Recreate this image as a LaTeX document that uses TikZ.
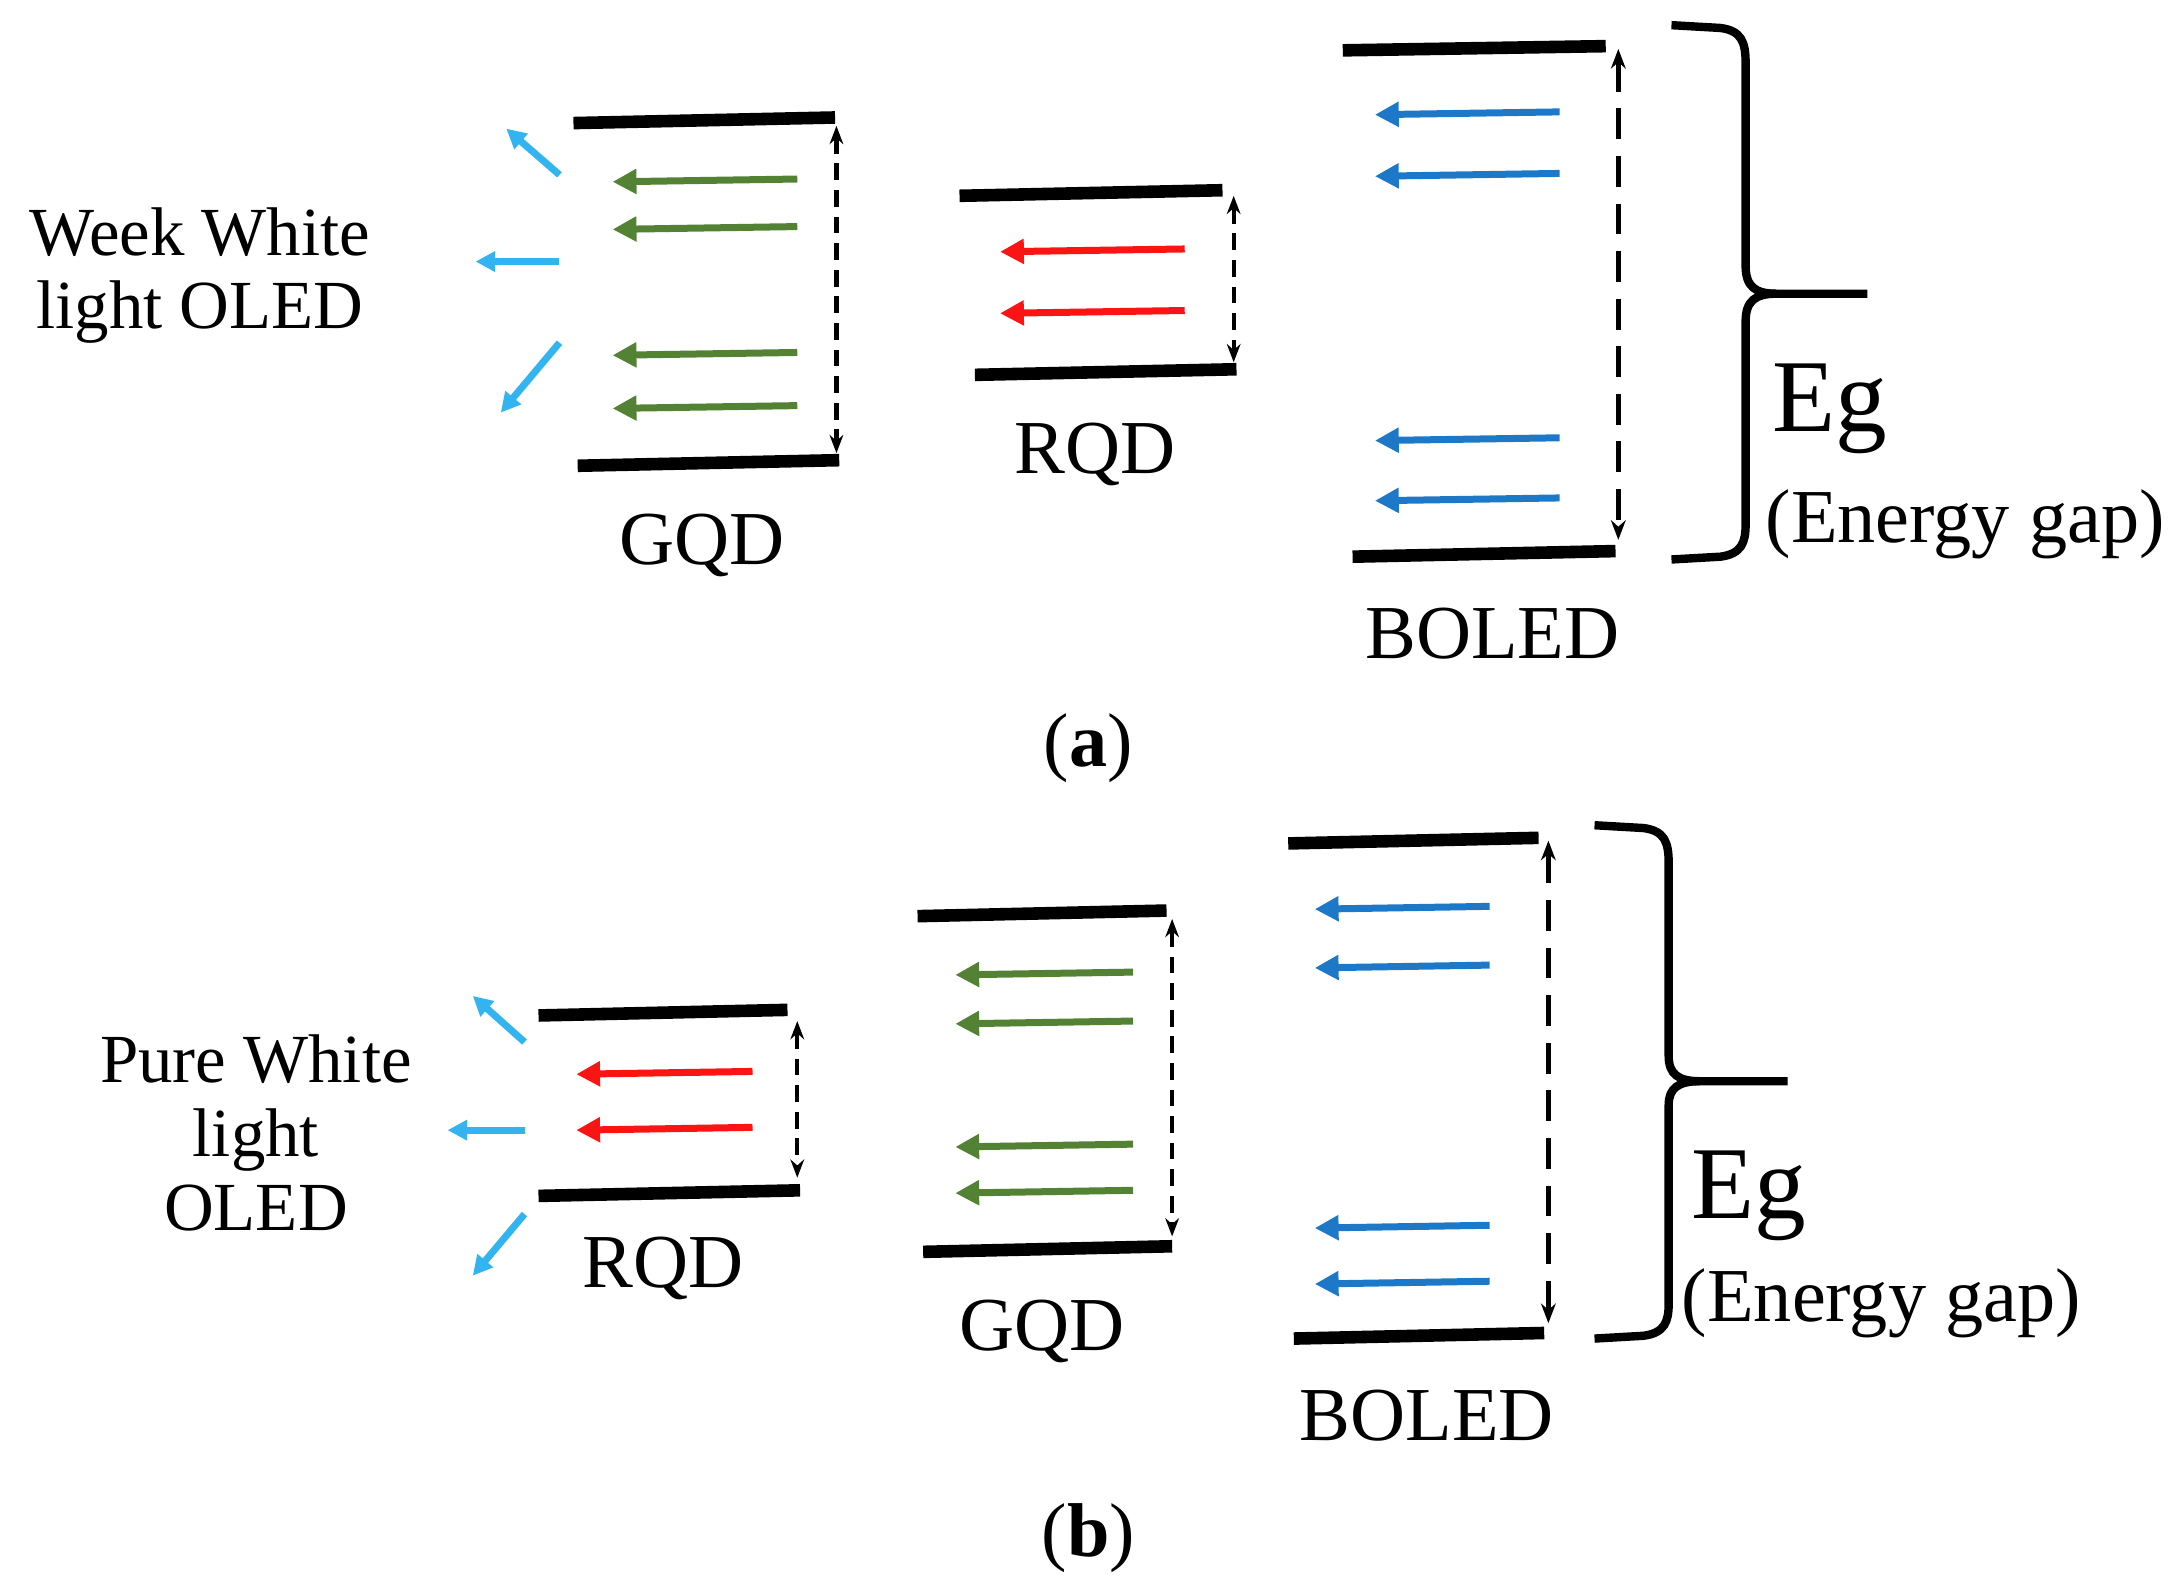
\documentclass[tikz,border=0pt]{standalone}
\usepackage{fontspec}
\setmainfont{Liberation Serif}
\usetikzlibrary{arrows.meta}
\definecolor{gr}{RGB}{84,130,53}
\definecolor{rd}{RGB}{250,20,20}
\definecolor{bl}{RGB}{30,120,200}
\definecolor{lb}{RGB}{50,180,240}
\tikzset{
 lvl/.style={line width=0.09cm},
 em/.style={line width=0.05cm,-{Triangle[length=0.17cm,width=0.17cm]}},
 gap/.style={line width=0.03cm,dashed,dash pattern=on 0.12cm off 0.07cm,{Stealth[length=0.13cm]}-{Stealth[length=0.13cm]}},
 gapb/.style={line width=0.035cm,dash pattern=on 0.22cm off 0.12cm,{Stealth[length=0.14cm]}-{Stealth[length=0.14cm]}},
 ray/.style={lb,line width=0.05cm,-{Triangle[length=0.14cm,width=0.14cm]}},
 lab/.style={font=\fontsize{15.5}{18}\selectfont},
 txt/.style={font=\fontsize{14}{16}\selectfont,align=center},
 brace/.style={line width=0.06cm}
}
\begin{document}
\begin{tikzpicture}[x=0.01cm,y=-0.01cm]
\useasboundingbox (0,0) rectangle (1560,1140);
% ---------- (a)
\node[txt] (wt) at (143,197) {Week White\\[-1pt]light OLED};
\draw[ray] (400,125) -- (362,92);
\draw[ray] (400,187) -- (340,187);
\draw[ray] (400,245) -- (358,295);
% GQD
\draw[lvl] (410,88) -- (597,84);
\draw[lvl] (413,333) -- (600,329);
\draw[gap] (598,90) -- (598,324);
\foreach \y in {128,162,252,290} \draw[em,gr] (570,\y) -- (438,\y+2);
\node[lab] (g1) at (502,390) {GQD};
% RQD
\draw[lvl] (686,140) -- (874,136);
\draw[lvl] (697,268) -- (884,264);
\draw[gap] (882,140) -- (882,259);
\foreach \y in {180,224} \draw[em,rd] (847,\y-2) -- (715,\y);
\node[lab] (r1) at (783,325) {RQD};
% BOLED
\draw[lvl] (960,36) -- (1148,33);
\draw[lvl] (967,398) -- (1155,394);
\draw[gapb] (1157,35) -- (1157,386);
\foreach \y in {82,126,315,358} \draw[em,bl] (1115,\y-2) -- (983,\y);
\node[lab] (b1) at (1067,453) {BOLED};
% brace
\draw[brace] (1195,18) -- (1230,20) .. controls (1245,22) and (1248,30) .. (1248,45) -- (1248,190) .. controls (1248,205) and (1255,210) .. (1270,210) -- (1335,210);
\draw[brace] (1195,400) -- (1230,398) .. controls (1245,396) and (1248,388) .. (1248,375) -- (1248,230) .. controls (1248,215) and (1255,210) .. (1270,210);
\node[font=\fontsize{21}{24}\selectfont] (eg1) at (1308,292) {Eg};
\node[lab] (en1) at (1405,375) {(Energy gap)};
\node[lab] (ca) at (778,535) {(\textbf{a})};
% ---------- (b)
\node[txt] (pw) at (183,810) {Pure White\\[-1pt]light\\[-1pt]OLED};
\draw[ray] (375,745) -- (338,712);
\draw[ray] (375,808) -- (320,808);
\draw[ray] (375,868) -- (338,912);
% RQD
\draw[lvl] (385,726) -- (563,722);
\draw[lvl] (385,855) -- (572,851);
\draw[gap] (570,730) -- (570,842);
\foreach \y in {768,808} \draw[em,rd] (538,\y-2) -- (412,\y);
\node[lab] (r2) at (474,907) {RQD};
% GQD
\draw[lvl] (656,655) -- (834,651);
\draw[lvl] (660,895) -- (838,891);
\draw[gap] (838,657) -- (838,884);
\foreach \y in {697,732,820,853} \draw[em,gr] (810,\y-2) -- (683,\y);
\node[lab] (g2) at (745,952) {GQD};
% BOLED
\draw[lvl] (921,603) -- (1100,599);
\draw[lvl] (925,957) -- (1104,953);
\draw[gapb] (1107,601) -- (1107,946);
\foreach \y in {650,692,878,918} \draw[em,bl] (1065,\y-2) -- (940,\y);
\node[lab] (b2) at (1020,1012) {BOLED};
% brace
\draw[brace] (1140,590) -- (1175,592) .. controls (1190,594) and (1193,602) .. (1193,617) -- (1193,755) .. controls (1193,768) and (1200,773) .. (1215,773) -- (1278,773);
\draw[brace] (1140,957) -- (1175,955) .. controls (1190,953) and (1193,945) .. (1193,932) -- (1193,790) .. controls (1193,778) and (1200,773) .. (1215,773);
\node[font=\fontsize{21}{24}\selectfont] (eg2) at (1250,855) {Eg};
\node[lab] (en2) at (1345,932) {(Energy gap)};
\node[lab] (cb) at (778,1100) {(\textbf{b})};
\end{tikzpicture}
\end{document}
